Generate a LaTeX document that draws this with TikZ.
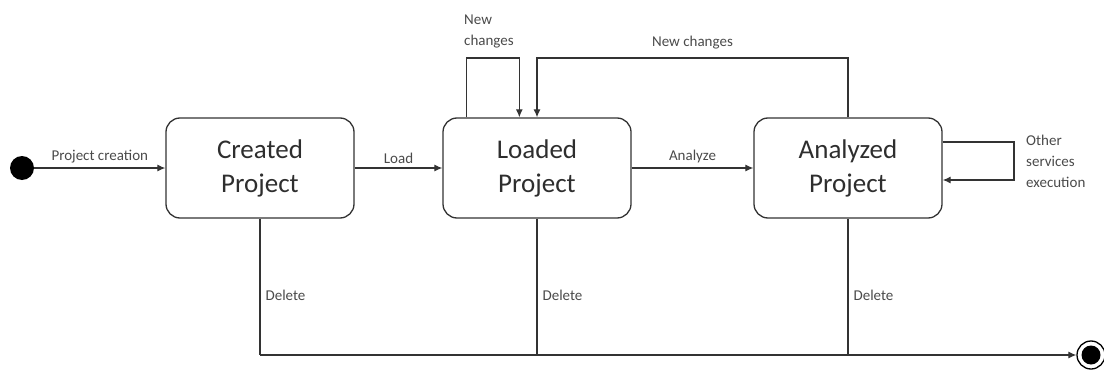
\documentclass[tikz,border=0pt]{standalone}
\usepackage{fontspec}
\setmainfont{Carlito}
\usetikzlibrary{arrows.meta}
\definecolor{linec}{HTML}{333333}
\definecolor{textc}{HTML}{2E2E2E}
\definecolor{labc}{HTML}{4A4A4A}
\begin{document}
\begin{tikzpicture}[x=1pt,y=-1pt,
  state/.style={draw=linec, line width=1.3pt, rounded corners=14pt,
    minimum width=188pt, minimum height=100pt, align=center,
    text=textc, font=\fontsize{27}{34}\selectfont},
  lbl/.style={text=labc, font=\fontsize{15}{21}\selectfont, inner sep=2pt},
  flow/.style={draw=linec, line width=1.2pt, -{Latex[length=8pt,width=7pt]}},
  wire/.style={draw=linec, line width=1.2pt}]
\useasboundingbox (0,0) rectangle (1104,372);

% states
\node[state] (created)  at (260,168) {Created\\Project};
\node[state] (loaded)   at (537,168) {Loaded\\Project};
\node[state] (analyzed) at (848,168) {Analyzed\\Project};

% initial and final pseudo-states
\node[circle, fill=black, minimum size=24pt, inner sep=0pt] (init) at (22,168) {};
\node[circle, draw=black, line width=1.3pt, minimum size=28pt, inner sep=0pt] (final) at (1091,355) {};
\node[circle, fill=black, minimum size=19pt, inner sep=0pt] (finalcore) at (final) {};

% main flow
\draw[flow] (init) -- node[lbl, above, yshift=2pt] {Project creation} (created);
\draw[flow] (created) -- node[lbl, above, yshift=2pt] {Load} (loaded);
\draw[flow] (loaded) -- node[lbl, above, yshift=2pt] {Analyze} (analyzed);

% self loop on Loaded Project
\coordinate (lA) at ([xshift=24pt]loaded.north west);
\coordinate (lB) at ([xshift=77pt]loaded.north west);
\draw[flow] (lA) -- (lA |- 0,58) -- (lB |- 0,58) -- (lB);
\node[lbl, align=left, anchor=south west] (lnew) at (462,50) {New\\changes};

% back edge from Analyzed to Loaded
\draw[flow] (analyzed.north) -- (analyzed.north |- 0,58)
  -- node[lbl, above, yshift=6pt] {New changes} (loaded.north |- 0,58) -- (loaded.north);

% self loop on Analyzed Project
\coordinate (aA) at ([yshift=26pt]analyzed.east);
\coordinate (aB) at ([yshift=-12pt]analyzed.east);
\draw[flow] (aA) -- (1014,0 |- aA) -- (1014,0 |- aB) -- (aB);
\node[lbl, align=left, anchor=west] (aother) at (1024,161) {Other\\services\\execution};

% delete transitions
\coordinate (dC) at (created.south |- final);
\coordinate (dL) at (loaded.south |- final);
\coordinate (dA) at (analyzed.south |- final);
\draw[wire] (created.south) -- node[lbl, right, pos=0.56, xshift=3pt] {Delete} (dC);
\draw[wire] (loaded.south) -- node[lbl, right, pos=0.56, xshift=3pt] {Delete} (dL);
\draw[wire] (analyzed.south) -- node[lbl, right, pos=0.56, xshift=3pt] {Delete} (dA);
\draw[flow] (dC) -- (final);
\end{tikzpicture}
\end{document}
